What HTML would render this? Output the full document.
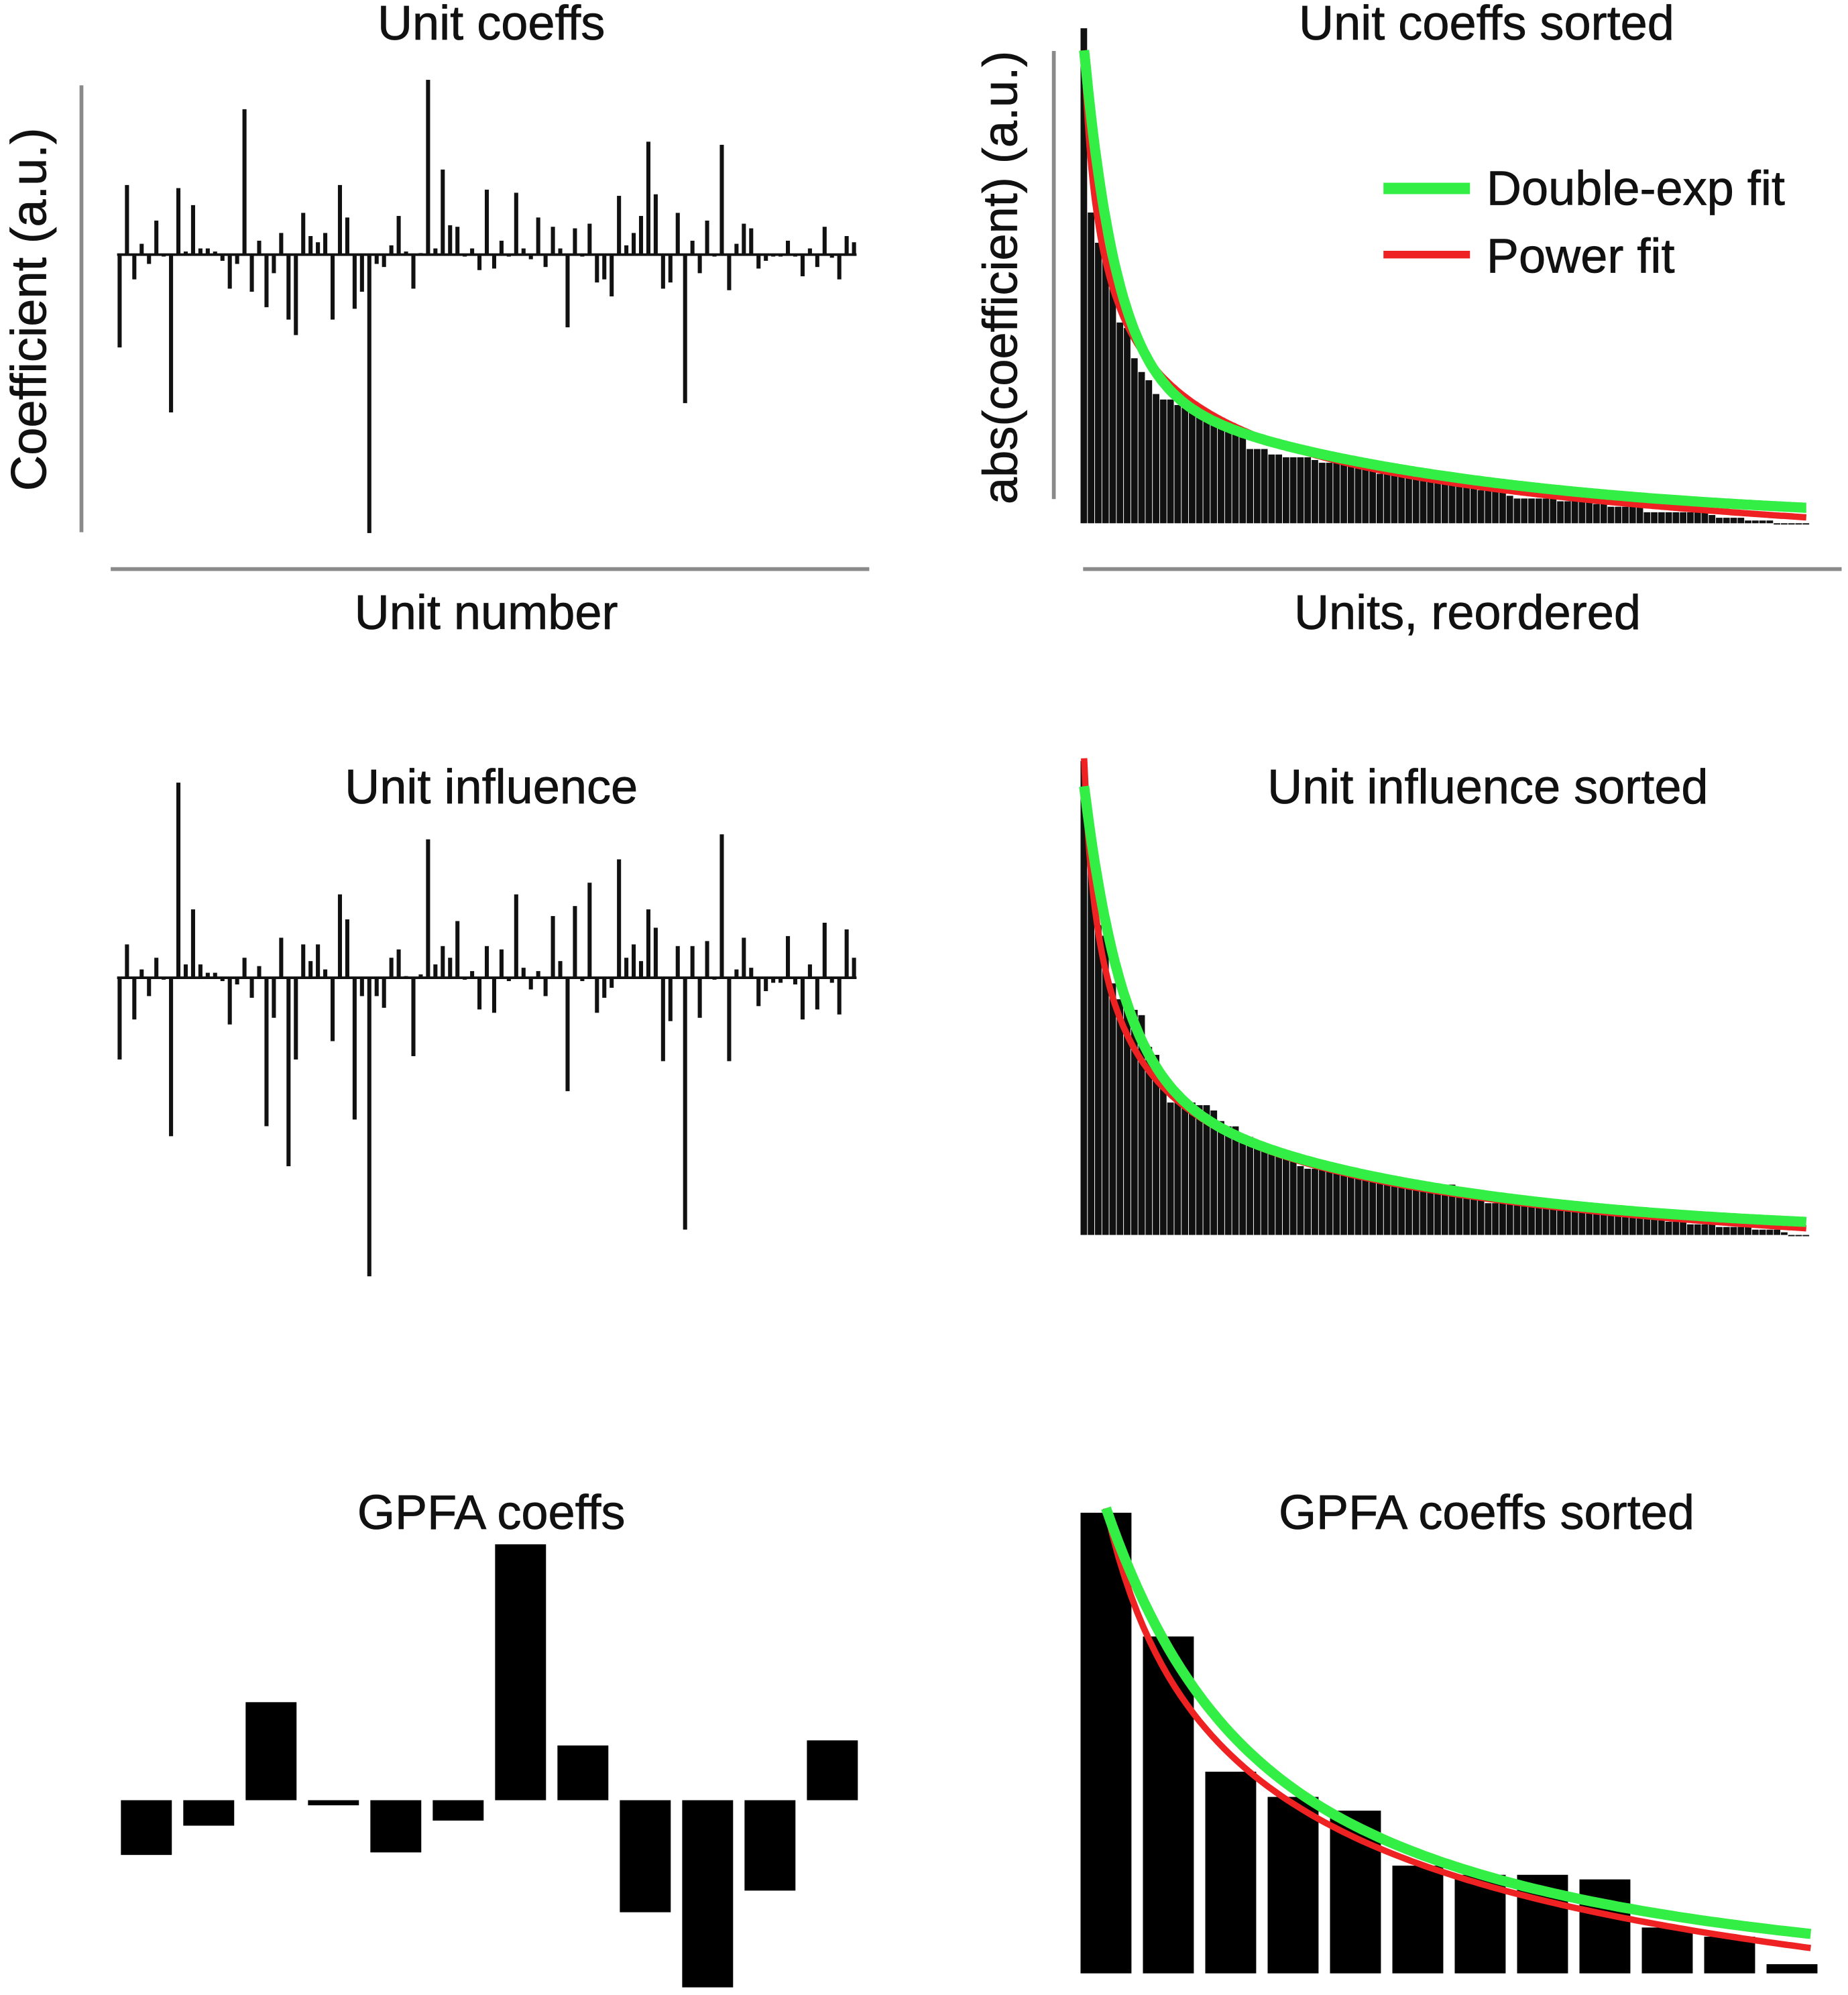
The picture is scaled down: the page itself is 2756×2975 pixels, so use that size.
<!DOCTYPE html>
<html><head><meta charset="utf-8">
<style>
html,body{margin:0;padding:0;background:#fff;}
svg{display:block;}
text{font-family:"Liberation Sans",Arial,sans-serif;fill:#111;}
</style></head>
<body>
<svg id="fig" width="2756" height="2975" viewBox="0 0 1452 1567" preserveAspectRatio="none" xmlns="http://www.w3.org/2000/svg">
  <g font-size="38" text-anchor="middle" stroke="#111" stroke-width="0.4">
    <text x="386" y="31">Unit coeffs</text>
    <text x="1168" y="31">Unit coeffs sorted</text>
    <text x="382" y="494">Unit number</text>
    <text x="1153" y="494">Units, reordered</text>
    <text x="386" y="631">Unit influence</text>
    <text x="1169" y="631">Unit influence sorted</text>
    <text x="386" y="1201">GPFA coeffs</text>
    <text x="1168" y="1201">GPFA coeffs sorted</text>
    <text x="0" y="0" font-size="39" transform="translate(36,243) rotate(-90)">Coefficient (a.u.)</text>
    <text x="0" y="0" font-size="38" transform="translate(799,218) rotate(-90)">abs(coefficient) (a.u.)</text>
  </g>
  <g stroke="#8a8a8a" stroke-width="3">
    <line x1="64" y1="67" x2="64" y2="418"/>
    <line x1="87" y1="447" x2="683" y2="447"/>
    <line x1="828" y1="40" x2="828" y2="392"/>
    <line x1="851" y1="447" x2="1447" y2="447"/>
  </g>
  <g id="marks"></g>
  <g>
    <line x1="1087" y1="148" x2="1155" y2="148" stroke="#33ee44" stroke-width="9"/>
    <line x1="1087" y1="200" x2="1155" y2="200" stroke="#ee2222" stroke-width="6"/>
    <text x="1168" y="161" font-size="38" stroke="#111" stroke-width="0.4">Double-exp fit</text>
    <text x="1168" y="214" font-size="38" stroke="#111" stroke-width="0.4">Power fit</text>
  </g>
</svg>
<script>
const unitCoeffs = [-300,225,-80,35,-30,110,0,-510,215,10,160,20,20,10,-20,-110,-30,470,-120,45,-170,-60,70,-210,-260,135,60,40,70,-210,225,120,-175,-120,-900,-30,-40,30,125,10,-110,5,565,20,275,95,90,0,20,-50,210,-45,45,-5,200,20,-15,120,-40,90,20,-235,85,-5,100,-90,-80,-135,190,30,70,125,365,195,-110,-90,135,-480,45,-60,110,0,355,-115,35,100,85,-45,-20,0,0,45,-5,-70,20,-40,90,-10,-80,60,40];
const unitInfluence = [-245,100,-125,25,-55,60,0,-475,585,40,205,40,15,15,-10,-140,-20,60,-60,35,-445,-120,120,-565,-245,100,50,100,25,-190,250,175,-425,-55,-895,-55,-90,60,85,5,-235,10,415,40,95,60,170,0,20,-95,95,-105,85,-10,250,30,-35,20,-55,185,50,-340,215,-10,285,-105,-60,-30,355,60,100,50,205,150,-250,-130,95,-755,95,-120,110,0,430,-250,25,120,30,-85,-40,-15,-15,125,-20,-125,40,-95,165,-15,-110,145,60];
const gpfaCoeffs = [-43,-20,77,-4,-41,-16,201,43,-88,-147,-71,47];
const coeffFitDoubleExp = [600,4.5,260,45];
const coeffFitPower = [1133,0.3,-273];
const influenceFitDoubleExp = [547,5.3,300,40];
const influenceFitPower = [1184,0.3,-284];
const gpfaFitDoubleExp = [90,1.5,113,6];
const gpfaFitPower = [303,0.4,-100];

const NS = 'http://www.w3.org/2000/svg';
const marks = document.getElementById('marks');
function mk(tag, attrs, parent){
  const e = document.createElementNS(NS, tag);
  for (const k in attrs) e.setAttribute(k, attrs[k]);
  (parent||marks).appendChild(e);
  return e;
}
function dexp(p,i){return p[0]*Math.exp(-i/p[1]) + p[2]*Math.exp(-i/p[3]);}
function pw(p,i){return p[0]*Math.pow(i+1,-p[1]) + p[2];}

function stemChart(vals, x0, x1, y0, k, name){
  const g = mk('g', {});
  
  
  const step = (x1-x0)/(vals.length-1);
  const xs = i => x0 + i*step;
  const ys = v => y0 - v*k;
  const zl = mk('line', {x1:x0-2, x2:x1+2, y1:y0, y2:y0, stroke:'#111', 'stroke-width':2}, g);
  
  
  vals.forEach((v,i)=>{
    const y = ys(v);
    const r = mk('rect', {x:xs(i)-1.6, width:3.2, y:Math.min(y,y0), height:Math.max(Math.abs(y-y0),1.5), fill:'#111'}, g);
    
    
  });
}
function sortedChart(vals, x0, x1, base, k, pDexp, pPow, name){
  const g = mk('g', {});
  
  
  const s = vals.map(Math.abs).sort((a,b)=>b-a);
  const step = (x1-x0)/s.length;
  s.forEach((v,i)=>{
    const r = mk('rect', {x:x0+i*step, width:step-0.5, y:base-v*k, height:Math.max(v*k,1), fill:'#111'}, g);
    
    
  });
  const pts = (f,p) => { let a=[]; for(let t=0;t<=s.length-1;t+=0.25){a.push((x0+(t+0.5)*step).toFixed(1)+','+(base-f(p,t)*k).toFixed(1));} return a.join(' '); };
  const red = mk('polyline', {points:pts(pw,pPow), fill:'none', stroke:'#ee2222', 'stroke-width':5}, g);
  
  
  const grn = mk('polyline', {points:pts(dexp,pDexp), fill:'none', stroke:'#33ee44', 'stroke-width':8}, g);
  
  
}

stemChart(unitCoeffs, 94, 671, 200, 0.243, 'unit-coeffs-chart');
stemChart(unitInfluence, 94, 671, 768, 0.262, 'unit-influence-chart');
sortedChart(unitCoeffs, 849, 1422, 411, 0.432, coeffFitDoubleExp, coeffFitPower, 'unit-coeffs-sorted-chart');
sortedChart(unitInfluence, 849, 1422, 970, 0.416, influenceFitDoubleExp, influenceFitPower, 'unit-influence-sorted-chart');

(function(){
  const g = mk('g', {});
  
  
  const y0 = 1414, k = 1.0, x0 = 95, step = 49, w = 40;
  gpfaCoeffs.forEach((v,i)=>{
    const y = y0 - v*k;
    const r = mk('rect', {x:x0+i*step, width:w, y:Math.min(y,y0), height:Math.max(Math.abs(v*k),3), fill:'#000'}, g);
    
    
  });
})();
(function(){
  const g = mk('g', {});
  
  
  const base = 1550, k = 1.8, x0 = 849, step = 49, w = 40;
  const s = gpfaCoeffs.map(Math.abs).sort((a,b)=>b-a);
  s.forEach((v,i)=>{
    const r = mk('rect', {x:x0+i*step, width:w, y:base-v*k, height:v*k, fill:'#000'}, g);
    
    
  });
  const pts = (f,p) => { let a=[]; for(let t=0;t<=11.3;t+=0.1){a.push((x0+w/2+t*step).toFixed(1)+','+(base-f(p,t)*k).toFixed(1));} return a.join(' '); };
  const red = mk('polyline', {points:pts(pw,gpfaFitPower), fill:'none', stroke:'#ee2222', 'stroke-width':5}, g);
  
  
  const grn = mk('polyline', {points:pts(dexp,gpfaFitDoubleExp), fill:'none', stroke:'#33ee44', 'stroke-width':8}, g);
  
  
})();
</script>
</body></html>
